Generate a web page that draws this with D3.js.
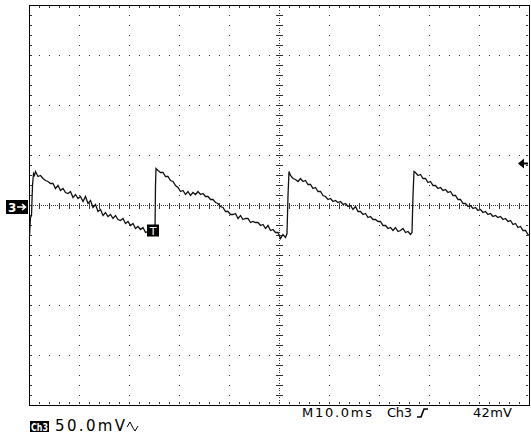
<!DOCTYPE html>
<html>
<head>
<meta charset="utf-8">
<script src="https://cdn.jsdelivr.net/npm/d3@7"></script>
<style>
  html, body { margin: 0; padding: 0; background: #fff; }
  svg { display: block; }
  text { font-family: "DejaVu Sans", "Liberation Sans", Arial, sans-serif; }
</style>
</head>
<body>
<svg id="scope" width="531" height="443"></svg>
<script>
// Channel 3 capture: 10.0 ms/div, 50.0 mV/div, rising-edge trigger at 42 mV
const timeWindowMs = [0.3, 100.3];
const voltRangeMv = [-200, 200];
const timeDivMs = 10;
const voltDivMv = 50;
const triggerLevelMv = 42;
const triggerTimeMs = 25.0;
const triggerMarkMv = -25;

const sampleTimeMs = [
  0.3, 0.5, 0.7, 0.9, 1.1, 1.3, 1.5, 2.0, 2.5, 3.0, 3.5, 4.0, 4.5, 5.0, 5.5, 6.0, 6.5, 7.0, 7.5, 8.0,
  8.5, 9.0, 9.5, 10.0, 10.5, 11.0, 11.5, 12.0, 12.5, 13.0, 13.5, 14.0, 14.5, 15.0, 15.5, 16.0, 16.5,
  17.0, 17.5, 18.0, 18.5, 19.0, 19.5, 20.0, 20.5, 21.0, 21.5, 22.0, 22.5, 23.0, 23.5, 24.0, 24.5,
  25.0, 25.4, 25.5, 25.6,
  26.0, 26.5, 27.0, 27.5, 28.0, 28.5, 29.0, 29.5, 30.0, 30.5, 31.0, 31.5, 32.0, 32.5, 33.0, 33.5,
  34.0, 34.5, 35.0, 35.5, 36.0, 36.5, 37.0, 37.5, 38.0, 38.5, 39.0, 39.5, 40.0, 40.5, 41.0, 41.5,
  42.0, 42.5, 43.0, 43.5, 44.0, 44.5, 45.0, 45.5, 46.0, 46.5, 47.0, 47.5, 48.0, 48.5, 49.0, 49.5,
  50.0, 50.5, 51.0, 51.5, 51.8, 52.0, 52.2,
  52.5, 53.0, 53.5, 54.0, 54.5, 55.0, 55.5, 56.0, 56.5, 57.0, 57.5, 58.0, 58.5, 59.0, 59.5, 60.0,
  60.5, 61.0, 61.5, 62.0, 62.5, 63.0, 63.5, 64.0, 64.5, 65.0, 65.5, 66.0, 66.5, 67.0, 67.5, 68.0,
  68.5, 69.0, 69.5, 70.0, 70.5, 71.0, 71.5, 72.0, 72.5, 73.0, 73.5, 74.0, 74.5, 75.0, 75.5, 76.0,
  76.5, 76.8, 77.0, 77.2,
  77.5, 78.0, 78.5, 79.0, 79.5, 80.0, 80.5, 81.0, 81.5, 82.0, 82.5, 83.0, 83.5, 84.0, 84.5, 85.0,
  85.5, 86.0, 86.5, 87.0, 87.5, 88.0, 88.5, 89.0, 89.5, 90.0, 90.5, 91.0, 91.5, 92.0, 92.5, 93.0,
  93.5, 94.0, 94.5, 95.0, 95.5, 96.0, 96.5, 97.0, 97.5, 98.0, 98.5, 99.0, 99.5, 100.0, 100.3
];

const sampleVoltMv = [
  -30, -12, -10, 20, 32, 30, 34, 29, 30, 27, 25, 24, 22, 22, 17, 20, 15, 17, 13, 12,
  14, 8, 11, 7, 9, 4, 9, 2, 5, -2, 1, -6, -4, -10, -7, -11, -9,
  -13, -10, -14, -15, -13, -18, -16, -20, -18, -23, -21, -24, -22, -27, -26, -26,
  -25, -25, 20, 37,
  35, 33, 33, 29, 29, 25, 24, 20, 18, 14, 15, 11, 14, 10, 13, 11,
  14, 11, 12, 9, 9, 6, 6, 3, 2, -1, -2, -6, -6, -9, -9, -8,
  -13, -10, -14, -13, -13, -17, -16, -17, -17, -20, -19, -23, -20, -25, -24, -27,
  -27, -33, -29, -32, -28, 10, 34,
  30, 27, 26, 24, 27, 24, 25, 21, 21, 17, 18, 14, 14, 10, 9, 6,
  7, 4, 5, 3, 4, 1, 2, -1, 0, -4, -1, -6, -6, -9, -8, -12,
  -11, -14, -14, -16, -16, -20, -20, -23, -22, -25, -22, -26, -25, -23, -27, -26,
  -29, -27, 10, 34,
  33, 30, 31, 27, 27, 23, 24, 20, 20, 17, 18, 15, 16, 13, 14, 10,
  10, 6, 6, 2, 2, -1, 0, -3, -2, -5, -4, -7, -6, -9, -8, -11,
  -10, -12, -11, -14, -13, -16, -15, -19, -18, -22, -21, -25, -25, -29, -30
];

const bottomLabels = { timebase: "M10.0ms", source: "Ch3", level: "42mV", scale: "50.0mV" };

const svg = d3.select("#scope");
const x = d3.scaleLinear().domain(timeWindowMs).range([29.5, 529.5]);
const y = d3.scaleLinear().domain(voltRangeMv).range([405.5, 5.5]);

const t0 = timeWindowMs[0];
const xCenter = x(t0 + 5 * timeDivMs);
const yCenter = y(0);

// ---- graticule ----
const g = svg.append("g").attr("shape-rendering", "crispEdges");
const dotColor = "#333";

const minorT = d3.range(0, 100.001, timeDivMs / 5);   // every 2 ms
const minorV = d3.range(-200, 200.001, voltDivMv / 5); // every 10 mV
const majorT = d3.range(0, 100.001, timeDivMs);
const majorV = d3.range(-200, 200.001, voltDivMv);

const dots = [];
// dotted horizontal division lines
majorV.filter(v => v !== 0 && Math.abs(v) !== 200).forEach(v => {
  minorT.forEach(dt => dots.push([Math.floor(x(t0 + dt)), Math.floor(y(v))]));
});
// dotted vertical division lines
majorT.filter(dt => dt !== 50 && dt !== 0 && dt !== 100).forEach(dt => {
  minorV.forEach(v => dots.push([Math.floor(x(t0 + dt)), Math.floor(y(v))]));
});
// fine center axes
d3.range(0, 100.001, 0.4).forEach(dt => dots.push([Math.floor(x(t0 + dt)), Math.floor(yCenter)]));
d3.range(-200, 200.001, 2.5).forEach(v => dots.push([Math.floor(xCenter), Math.floor(y(v))]));

g.selectAll("rect.dot").data(dots).join("rect")
  .attr("class", "dot")
  .attr("x", d => d[0]).attr("y", d => d[1])
  .attr("width", 1).attr("height", 1)
  .attr("fill", dotColor);

// minor ticks on center axes
g.selectAll("line.tx").data(minorT).join("line")
  .attr("class", "tx")
  .attr("x1", d => Math.floor(x(t0 + d)) + 0.5).attr("x2", d => Math.floor(x(t0 + d)) + 0.5)
  .attr("y1", yCenter - 3).attr("y2", yCenter + 3)
  .attr("stroke", dotColor).attr("stroke-width", 1);
g.selectAll("line.ty").data(minorV).join("line")
  .attr("class", "ty")
  .attr("y1", d => Math.floor(y(d)) + 0.5).attr("y2", d => Math.floor(y(d)) + 0.5)
  .attr("x1", xCenter - 3.5).attr("x2", xCenter + 3.5)
  .attr("stroke", dotColor).attr("stroke-width", 1);

// border ticks
const bt = [];
minorT.forEach(dt => {
  const px = Math.floor(x(t0 + dt));
  bt.push([px, y(200) + 1, px, y(200) + 3]);
  bt.push([px, y(-200) - 3, px, y(-200) - 1]);
});
minorV.forEach(v => {
  const py = Math.floor(y(v));
  bt.push([x(t0) + 1, py, x(t0) + 3, py]);
  bt.push([x(t0 + 100) - 3, py, x(t0 + 100) - 1, py]);
});
g.selectAll("rect.bt").data(bt).join("rect")
  .attr("class", "bt")
  .attr("x", d => Math.floor(Math.min(d[0], d[2])))
  .attr("y", d => Math.floor(Math.min(d[1], d[3])))
  .attr("width", d => Math.max(1, Math.abs(d[2] - d[0])))
  .attr("height", d => Math.max(1, Math.abs(d[3] - d[1])))
  .attr("fill", dotColor);

// frame
g.append("rect")
  .attr("x", x(t0)).attr("y", y(200))
  .attr("width", x(t0 + 100) - x(t0)).attr("height", y(-200) - y(200))
  .attr("fill", "none").attr("stroke", "#000").attr("stroke-width", 1);

// ---- trace ----
svg.append("clipPath").attr("id", "screen")
  .append("rect").attr("x", x(t0)).attr("y", y(200))
  .attr("width", x(t0 + 100) - x(t0) + 1).attr("height", y(-200) - y(200));

const samples = sampleTimeMs.map((t, i) => [t, sampleVoltMv[i]]);
svg.append("path")
  .datum(samples)
  .attr("clip-path", "url(#screen)")
  .attr("fill", "none")
  .attr("stroke", "#111")
  .attr("stroke-width", 1.3)
  .attr("stroke-linejoin", "miter")
  .attr("d", d3.line().x(d => x(d[0])).y(d => y(d[1])));

// ---- markers ----
// ground reference "3→"
const gm = svg.append("g");
gm.append("rect").attr("x", 6).attr("y", yCenter - 5.5).attr("width", 22).attr("height", 14).attr("fill", "#000");
gm.append("text").attr("x", 8).attr("y", yCenter + 6).attr("fill", "#fff")
  .attr("font-size", 12).attr("font-weight", "bold").text("3");
gm.append("path")
  .attr("d", `M17,${yCenter + 1.5} H25 M22,${yCenter - 1.5} L25.5,${yCenter + 1.5} L22,${yCenter + 4.5}`)
  .attr("stroke", "#fff").attr("stroke-width", 1.6).attr("fill", "none");

// trigger position "T"
const tx = x(triggerTimeMs), ty = y(triggerMarkMv);
svg.append("rect").attr("x", tx - 6).attr("y", ty - 6).attr("width", 12).attr("height", 12).attr("fill", "#000");
svg.append("text").attr("x", tx).attr("y", ty + 4.5).attr("text-anchor", "middle")
  .attr("fill", "#fff").attr("font-size", 11).text("T");

// trigger level arrow on the right edge
const yl = y(triggerLevelMv);
svg.append("path")
  .attr("d", `M518,${yl} L524,${yl - 5} L524,${yl + 5} Z M523,${yl - 1} H528 V${yl + 1} H523 Z`)
  .attr("fill", "#000");

// ---- readouts ----
const row1 = 417, row2 = 431;
const readout = svg.append("g").attr("fill", "#000");
readout.append("text").attr("x", 302).attr("y", row1).attr("font-size", 13)
  .attr("textLength", 70).attr("lengthAdjust", "spacing").text(bottomLabels.timebase);
readout.append("text").attr("x", 387).attr("y", row1).attr("font-size", 13)
  .attr("textLength", 25).attr("lengthAdjust", "spacing").text(bottomLabels.source);
readout.append("text").attr("x", 473).attr("y", row1).attr("font-size", 13)
  .attr("textLength", 39).attr("lengthAdjust", "spacing").text(bottomLabels.level);
// rising-edge slope symbol
svg.append("path").attr("d", `M417,${row1} H421 L424,${row1 - 8} H428`)
  .attr("fill", "none").attr("stroke", "#000").attr("stroke-width", 1.6);

svg.append("rect").attr("x", 30).attr("y", row2 - 10).attr("width", 19).attr("height", 11).attr("fill", "#000");
svg.append("text").attr("x", 31).attr("y", row2).attr("font-size", 11).attr("font-weight", "bold")
  .attr("textLength", 17).attr("lengthAdjust", "spacingAndGlyphs")
  .attr("fill", "#fff").text(bottomLabels.source);
readout.append("text").attr("x", 55).attr("y", row2).attr("font-size", 15)
  .attr("textLength", 70).attr("lengthAdjust", "spacing").text(bottomLabels.scale);
// bandwidth-limit symbol
svg.append("path").attr("d", `M127,${row2 - 4} L130,${row2 - 9} L133,${row2 - 3} L135,${row2} L138,${row2 - 5}`)
  .attr("fill", "none").attr("stroke", "#000").attr("stroke-width", 1);
</script>
</body>
</html>
